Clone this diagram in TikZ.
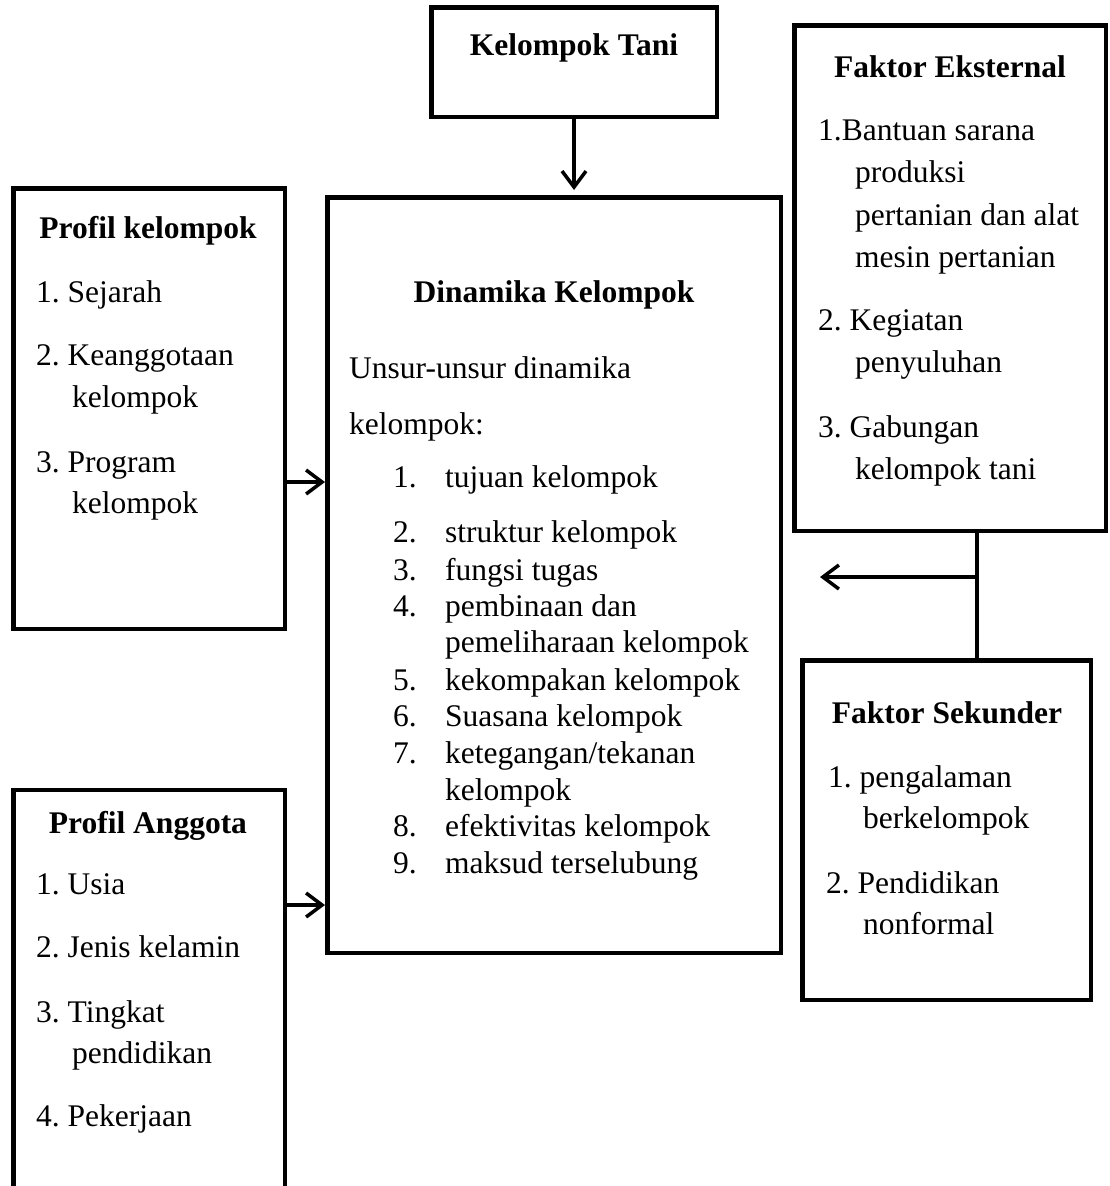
\documentclass[tikz,border=0pt]{standalone}
\usepackage{fontspec}
\setmainfont{Liberation Serif}
\usetikzlibrary{arrows.meta}
\frenchspacing
\begin{document}
\begin{tikzpicture}[x=1pt,y=-1pt,
  box/.style={draw=black,line width=4.5pt,rectangle,inner sep=0pt},
  txt/.style={anchor=west,inner sep=0pt,yshift=-8pt,font=\fontsize{31.5}{36}\selectfont\frenchspacing,text height=0.7em,text depth=0.25em},
  head/.style={anchor=center,inner sep=0pt,yshift=-8pt,font=\fontsize{31.5}{36}\selectfont\bfseries,text height=0.7em,text depth=0.25em},
  arr/.style={line width=3.5pt,-{Straight Barb[length=16pt,width=24pt,line width=3.5pt]}},
  conn/.style={line width=3.5pt}]
\useasboundingbox (0,0) rectangle (1109,1186);
\fill[white] (0,0) rectangle (1109,1186);
% boxes
\node[box,minimum width=285.5pt,minimum height=109.5pt] (tani) at (574,62) {};
\node[box,minimum width=311.5pt,minimum height=505.5pt] (fe) at (950,278) {};
\node[box,minimum width=271.5pt,minimum height=440.5pt] (pk) at (149,408.5) {};
\node[box,minimum width=453.5pt,minimum height=755.5pt] (dk) at (554,575) {};
\node[box,minimum width=271.5pt,minimum height=440pt] (pa) at (149,1010) {};
\node[box,minimum width=288.5pt,minimum height=339.5pt] (fs) at (946.5,830) {};
% Kelompok Tani
\node[head] (taniH) at (574,45) {Kelompok Tani};
% Faktor Eksternal
\node[head] (feH) at (950,67) {Faktor Eksternal};
\node[txt] (fe1a) at (818,130) {1.Bantuan sarana};
\node[txt] (fe1b) at (855,172) {produksi};
\node[txt] (fe1c) at (855,215) {pertanian dan alat};
\node[txt] (fe1d) at (855,257) {mesin pertanian};
\node[txt] (fe2a) at (818,320) {2. Kegiatan};
\node[txt] (fe2b) at (855,362) {penyuluhan};
\node[txt] (fe3a) at (818,427) {3. Gabungan};
\node[txt] (fe3b) at (855,469) {kelompok tani};
% Profil kelompok
\node[head] (pkH) at (148,228) {Profil kelompok};
\node[txt] (pk1) at (36,292) {1. Sejarah};
\node[txt] (pk2a) at (36,355) {2. Keanggotaan};
\node[txt] (pk2b) at (72,397) {kelompok};
\node[txt] (pk3a) at (36,462) {3. Program};
\node[txt] (pk3b) at (72,503) {kelompok};
% Dinamika
\node[head] (dkH) at (554,292) {Dinamika Kelompok};
\node[txt] (dkU1) at (349,368) {Unsur-unsur dinamika};
\node[txt] (dkU2) at (349,424) {kelompok:};
\foreach \n/\y/\t in {1/477/{tujuan kelompok},2/532/{struktur kelompok},3/570/{fungsi tugas},4/606/{pembinaan dan},5/680/{kekompakan kelompok},6/716/{Suasana kelompok},7/753/{ketegangan/tekanan},8/826/{efektivitas kelompok},9/863/{maksud terselubung}}{
  \node[txt] (dkn\n) at (393,\y) {\n.};
  \node[txt] (dkt\n) at (445,\y) {\t};
}
\node[txt] (dkt4b) at (445,642) {pemeliharaan kelompok};
\node[txt] (dkt7b) at (445,790) {kelompok};
% Faktor Sekunder
\node[head] (fsH) at (947,713) {Faktor Sekunder};
\node[txt] (fs1a) at (828,777) {1. pengalaman};
\node[txt] (fs1b) at (863,818) {berkelompok};
\node[txt] (fs2a) at (826,883) {2. Pendidikan};
\node[txt] (fs2b) at (863,924) {nonformal};
% Profil Anggota
\node[head] (paH) at (148,823) {Profil Anggota};
\node[txt] (pa1) at (36,884) {1. Usia};
\node[txt] (pa2) at (36,947) {2. Jenis kelamin};
\node[txt] (pa3a) at (36,1012) {3. Tingkat};
\node[txt] (pa3b) at (72,1053) {pendidikan};
\node[txt] (pa4) at (36,1116) {4. Pekerjaan};
% connectors
\draw[arr] (tani.south) -- (tani.south |- 0,190);
\draw[arr] (pk.east |- 0,482) -- (dk.west |- 0,482);
\draw[arr] (pa.east |- 0,905) -- (dk.west |- 0,905);
\coordinate (j) at (977,577);
\coordinate (jt) at (820,577);
\draw[conn] (fe.south -| j) -- (fs.north -| j);
\draw[arr] (j) -- (jt);
\end{tikzpicture}
\end{document}
